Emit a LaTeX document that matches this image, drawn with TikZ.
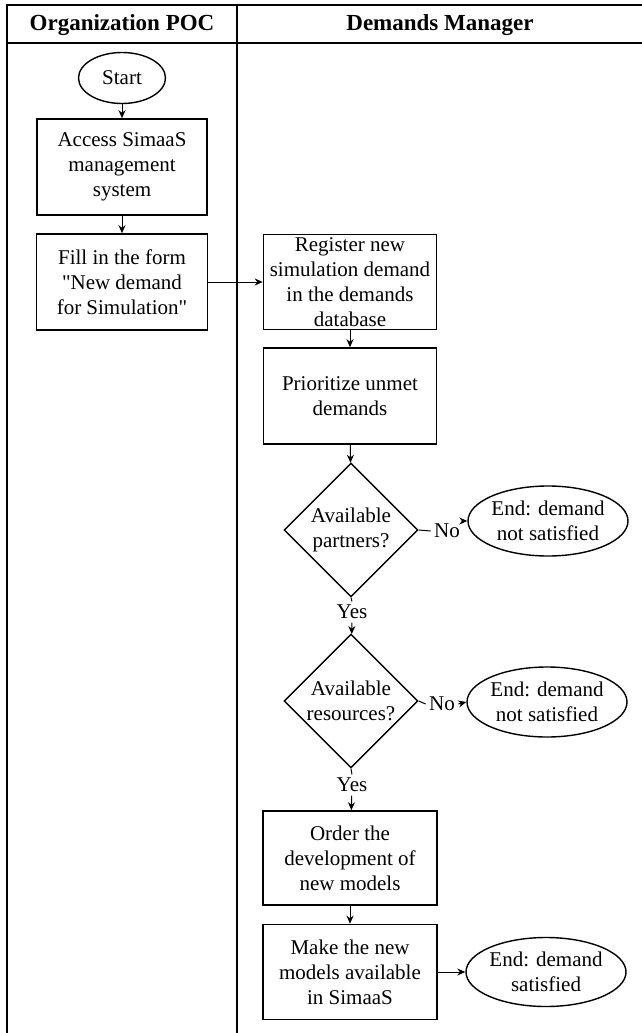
\documentclass[tikz,border=0pt]{standalone}
\usepackage{fontspec}
\setmainfont{Liberation Serif}
\usetikzlibrary{positioning,shapes.geometric,arrows.meta}

\begin{document}
\begin{tikzpicture}[x=1pt,y=-1pt,
    every node/.style={font=\fontsize{21}{25}\selectfont},
    lane/.style={font=\fontsize{23}{27}\selectfont\bfseries},
    task/.style={draw,rectangle,line width=1.6pt,align=center,inner sep=0pt,minimum width=173,minimum height=95},
    terminal/.style={draw,ellipse,line width=1.4pt,align=center,inner sep=0pt,minimum width=143,minimum height=70},
    decision/.style={draw,diamond,line width=1.4pt,align=center,inner sep=0pt,minimum width=134,minimum height=134},
    flow/.style={line width=1pt,-{Stealth[length=8pt,width=7pt]}},
    link/.style={line width=1pt}]
    \useasboundingbox (0,0) rectangle (641,1033);

    % swimlanes
    \draw[line width=1.2pt] (7,1045) -- (7,5) -- (650,5);
    \draw[line width=1.2pt] (7,43) -- (650,43);
    \draw[line width=1.2pt] (237,5) -- (237,1045);
    \node[lane] (poc) at (122,25) {Organization POC};
    \node[lane] (manager) at (440,25) {Demands Manager};

    % organization POC
    \node[terminal,minimum width=87,minimum height=51] (start) at (122,78) {Start};
    \node[task,minimum width=170,minimum height=96] (access) at (122,167) {Access SimaaS\\management\\system};
    \node[task,minimum width=171,minimum height=96] (fillform) at (122,282) {Fill in the form\\\textquotedbl New demand\\for Simulation\textquotedbl};

    % demands manager
    \node[task] (register) at (350,282) {Register new\\simulation demand\\in the demands\\database};
    \node[task,minimum height=96] (prioritize) at (350,396) {Prioritize unmet\\demands};
    \node[decision] (partners) at (351,530) {Available\\partners?};
    \node[terminal] (endpartners) at (548,521) {End: demand\\not satisfied};
    \node (nopartners) at (447,531) {No};
    \node (yespartners) at (352,612) {Yes};
    \node[decision] (resources) at (351,701) {Available\\resources?};
    \node[terminal] (endresources) at (547,702) {End: demand\\not satisfied};
    \node (noresources) at (442,704) {No};
    \node (yesresources) at (352,785) {Yes};
    \node[task,minimum width=174,minimum height=94] (order) at (350,858) {Order the\\development of\\new models};
    \node[task,minimum width=174] (publish) at (350,972) {Make the new\\models available\\in SimaaS};
    \node[terminal,minimum width=142,minimum height=69] (endok) at (546,972) {End: demand\\satisfied};

    % connectors
    \draw[flow] (start) -- (access);
    \draw[flow] (access) -- (fillform);
    \draw[flow] (fillform) -- (register);
    \draw[flow] (register) -- (prioritize);
    \draw[flow] (prioritize) -- (partners);
    \draw[link] (partners.east) -- (nopartners.west);
    \draw[flow] (nopartners.east |- endpartners.west) -- (endpartners.west);
    \draw[link] (partners.south) -- (yespartners.north);
    \draw[flow] (yespartners) -- (resources);
    \draw[link] (resources.east) -- (noresources.west);
    \draw[flow] (noresources.east) -- (endresources.west);
    \draw[link] (resources.south) -- (yesresources.north);
    \draw[flow] (yesresources) -- (order);
    \draw[flow] (order) -- (publish);
    \draw[flow] (publish) -- (endok);
\end{tikzpicture}
\end{document}
